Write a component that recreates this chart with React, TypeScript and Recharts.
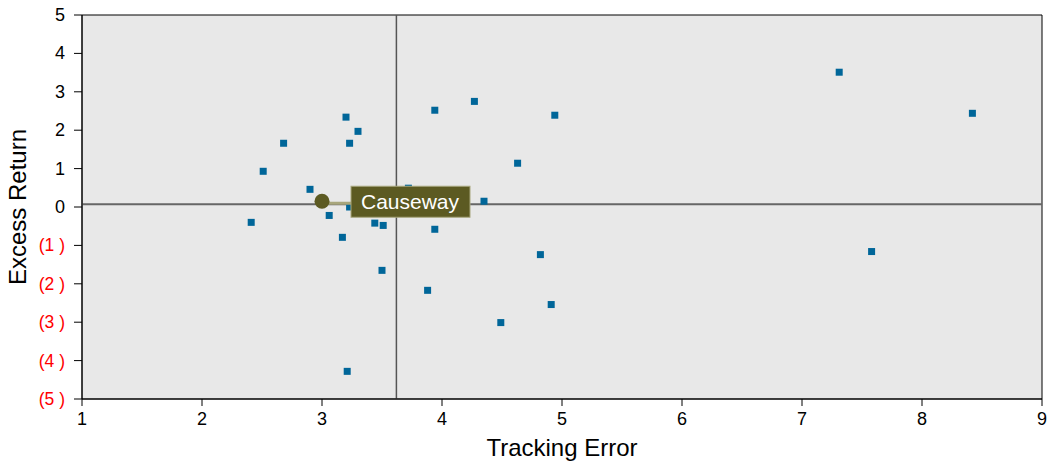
import React from 'react'
import {
  ScatterChart, Scatter, XAxis, YAxis, ReferenceLine, ReferenceArea, Label
} from 'recharts'

const trackingError = [
  2.41, 2.51, 2.68, 2.90, 3.20, 3.30, 3.23, 3.06, 3.17, 3.23,
  3.44, 3.51, 3.50, 3.72, 3.94, 4.27, 4.94, 4.63, 4.35, 3.94,
  3.88, 4.82, 4.49, 4.91, 3.21, 7.31, 7.58, 8.42
]
const excessReturn = [
  -0.40, 0.93, 1.66, 0.46, 2.34, 1.97, 1.66, -0.22, -0.79, 0.0,
  -0.42, -0.48, -1.65, 0.49, 2.52, 2.75, 2.39, 1.14, 0.15, -0.58,
  -2.17, -1.24, -3.01, -2.54, -4.28, 3.51, -1.16, 2.44
]
const highlightName = ['Causeway']
const highlightTE = [3.0]
const highlightER = [0.15]

const xTicks = [1, 2, 3, 4, 5, 6, 7, 8, 9]
const yTicks = [-5, -4, -3, -2, -1, 0, 1, 2, 3, 4, 5]
const avgTE = 3.62
const avgER = 0.07

const peers = trackingError.map((te, i) => ({ te, er: excessReturn[i] }))
const highlight = highlightName.map((name, i) => ({ name, te: highlightTE[i], er: highlightER[i] }))

const FONT = 'Liberation Sans, Arial, sans-serif'

const SquareDot = (props: any) => {
  const { cx, cy } = props
  return <rect x={cx - 3.5} y={cy - 3.5} width={7} height={7} fill="#006699" />
}

const CallOut = (props: any) => {
  const { cx, cy, payload } = props
  return (
    <g>
      <line x1={cx} y1={cy + 2} x2={cx + 30} y2={cy + 2} stroke="#a8a67c" strokeWidth={3} />
      <rect x={cx + 29} y={cy - 15} width={119} height={31} fill="#5c5a22" stroke="#a8a67c" strokeWidth={1} />
      <text x={cx + 39} y={cy + 8} fill="#fff" fontSize={21} fontFamily={FONT}>{payload.name}</text>
      <circle cx={cx} cy={cy} r={7.5} fill="#5c5a22" />
    </g>
  )
}

const YTick = (props: any) => {
  const { x, y, payload } = props
  const v = payload.value
  const neg = v < 0
  return (
    <text x={x - 7} y={y + 6} textAnchor="end" fontSize={neg ? 17.5 : 18} fontFamily={FONT}
      fill={neg ? '#ff0000' : '#000'}>
      {neg ? `(${Math.abs(v)} )` : v}
    </text>
  )
}

const XTick = (props: any) => {
  const { x, y, payload } = props
  return (
    <text x={x} y={y + 17} textAnchor="middle" fontSize={18} fontFamily={FONT} fill="#000">
      {payload.value}
    </text>
  )
}

export default function App() {
  return (
    <div style={{ position: 'absolute', left: 0, top: 0, background: '#fff' }}>
      <ScatterChart width={1047} height={462} margin={{ top: 15, right: 5, left: 0, bottom: 0 }}>
        <ReferenceArea x1={1} x2={9} y1={-5} y2={5} fill="#e8e8e8" fillOpacity={1} stroke="#000" strokeWidth={1} />
        <XAxis
          type="number" dataKey="te" domain={[1, 9]} ticks={xTicks} height={63}
          axisLine={{ stroke: '#000' }} tickLine={{ stroke: '#000' }} tickSize={7} tickMargin={2}
          tick={<XTick />} allowDataOverflow
        >
          <Label
            content={(p: any) => {
              const vb = p.viewBox
              return (
                <text x={vb.x + vb.width / 2} y={456} textAnchor="middle"
                  fontSize={24} fontFamily={FONT} fill="#000">Tracking Error</text>
              )
            }}
          />
        </XAxis>
        <YAxis
          type="number" dataKey="er" domain={[-5, 5]} ticks={yTicks} width={82}
          axisLine={{ stroke: '#000' }} tickLine={{ stroke: '#000' }} tickSize={8}
          tick={<YTick />} allowDataOverflow
        >
          <Label
            content={(p: any) => {
              const vb = p.viewBox
              const cy = vb.y + vb.height / 2
              return (
                <text x={26} y={cy} transform={`rotate(-90, 26, ${cy})`} textAnchor="middle"
                  fontSize={24} fontFamily={FONT} fill="#000">Excess Return</text>
              )
            }}
          />
        </YAxis>
        <ReferenceLine x={avgTE} stroke="#555" strokeWidth={1.5} />
        <ReferenceLine y={avgER} stroke="#666" strokeWidth={2} />
        <Scatter data={peers} shape={<SquareDot />} isAnimationActive={false} />
        <Scatter data={highlight} shape={<CallOut />} isAnimationActive={false} />
      </ScatterChart>
    </div>
  )
}
